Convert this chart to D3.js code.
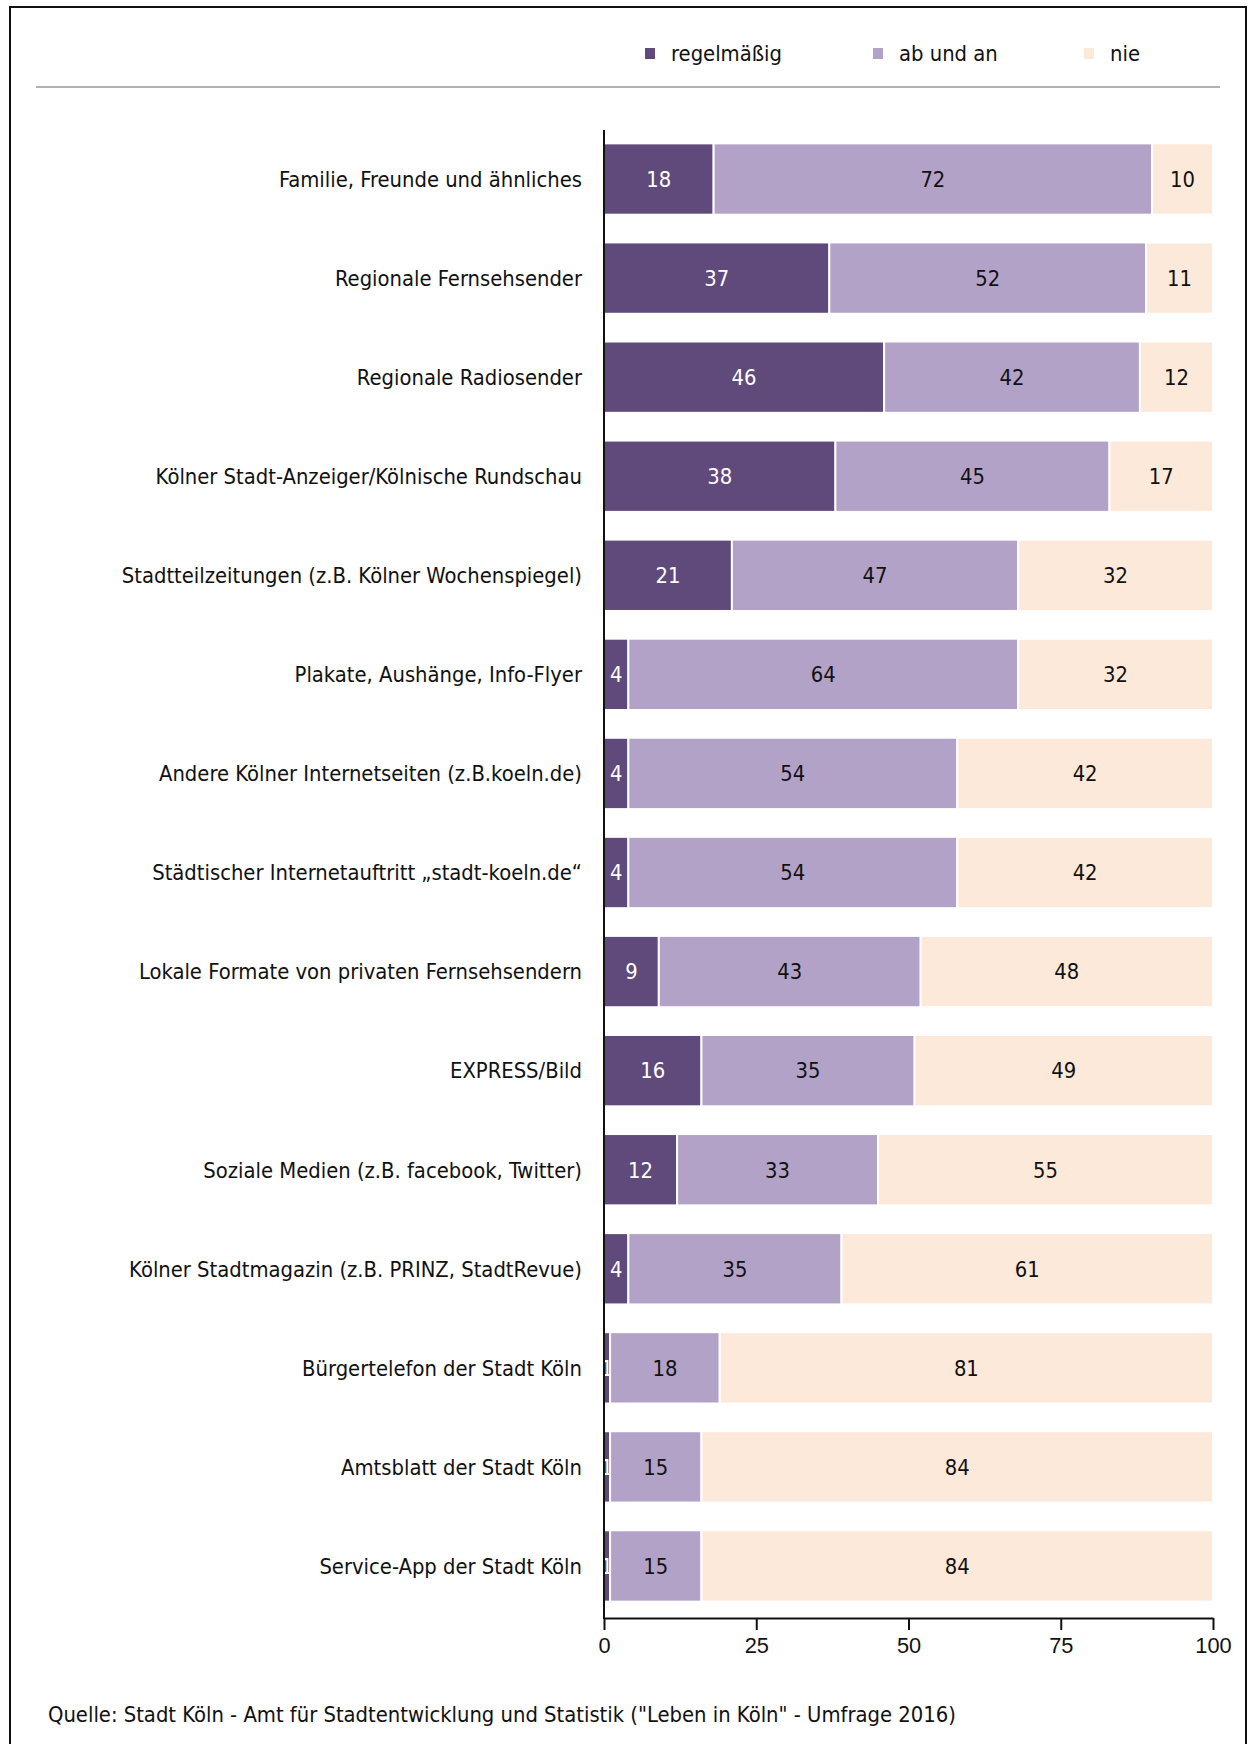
<!DOCTYPE html>
<html>
<head>
<meta charset="utf-8">
<script src="https://d3js.org/d3.v7.min.js"></script>
<style>
  html, body { margin: 0; padding: 0; background: #fff; }
  body { font-family: "Liberation Sans Narrow", "DejaVu Sans Condensed", "Open Sans", sans-serif; }
  svg text { fill: #111; }
</style>
</head>
<body>
<svg></svg>
<script>
    // Data
    var categories = [
        "Familie, Freunde und ähnliches",
        "Regionale Fernsehsender",
        "Regionale Radiosender",
        "Kölner Stadt-Anzeiger/Kölnische Rundschau",
        "Stadtteilzeitungen (z.B. Kölner Wochenspiegel)",
        "Plakate, Aushänge, Info-Flyer",
        "Andere Kölner Internetseiten (z.B.koeln.de)",
        "Städtischer Internetauftritt „stadt-koeln.de“",
        "Lokale Formate von privaten Fernsehsendern",
        "EXPRESS/Bild",
        "Soziale Medien (z.B. facebook, Twitter)",
        "Kölner Stadtmagazin (z.B. PRINZ, StadtRevue)",
        "Bürgertelefon der Stadt Köln",
        "Amtsblatt der Stadt Köln",
        "Service-App der Stadt Köln"
    ];
    var regelmaessig = [18, 37, 46, 38, 21, 4, 4, 4, 9, 16, 12, 4, 1, 1, 1];
    var abUndAn      = [72, 52, 42, 45, 47, 64, 54, 54, 43, 35, 33, 35, 18, 15, 15];
    var nie          = [10, 11, 12, 17, 32, 32, 42, 42, 48, 49, 55, 61, 81, 84, 84];
    var seriesNames = ["regelmäßig", "ab und an", "nie"];
    var xTicks = [0, 25, 50, 75, 100];
    var source = 'Quelle: Stadt Köln - Amt für Stadtentwicklung und Statistik ("Leben in Köln" - Umfrage 2016)';

    // Variables
    var width = 1248;
    var height = 1744;
    var fontSize = '21.8px';
    var colors = ["#604a7b", "#b3a2c7", "#fde9d9"];
    var textColors = ["#ffffff", "#111111", "#111111"];

    var svg = d3.select('svg')
        .attr('width', width)
        .attr('height', height);

    // frame
    svg.append('path')
        .attr('d', 'M10,' + (height + 2) + 'V7H1246V' + (height + 2))
        .attr('fill', 'none')
        .attr('stroke', '#111')
        .attr('stroke-width', 2);

    // legend rule
    svg.append('line')
        .attr('x1', 36).attr('x2', 1220)
        .attr('y1', 87).attr('y2', 87)
        .attr('stroke', '#999').attr('stroke-width', 1.5);

    // Build stacked data
    var rows = categories.map(function (c, i) {
        return { name: c, "regelmäßig": regelmaessig[i], "ab und an": abUndAn[i], "nie": nie[i] };
    });
    var stack = d3.stack().keys(seriesNames);
    var series = stack(rows);

    var x = d3.scaleLinear().domain([0, 100]).range([604, 1213]);
    var y = d3.scaleBand().domain(categories).range([129.5, 1615.5])
        .paddingInner(0.28).paddingOuter(0.14);

    var g = svg.append('g');

    // bars
    var layer = g.selectAll('.layer')
        .data(series)
        .enter().append('g')
        .attr('class', 'layer')
        .attr('fill', function (d, i) { return colors[i]; });

    layer.selectAll('rect')
        .data(function (d) { return d; })
        .enter().append('rect')
        .attr('x', function (d) { return x(d[0]); })
        .attr('y', function (d) { return y(d.data.name); })
        .attr('width', function (d) { return x(d[1]) - x(d[0]); })
        .attr('height', y.bandwidth())
        .attr('stroke', '#fff')
        .attr('stroke-width', 2);

    // value labels
    layer.selectAll('text')
        .data(function (d, i) { return d.map(function (v) { v.si = i; return v; }); })
        .enter().append('text')
        .attr('x', function (d) { return (x(d[0]) + x(d[1])) / 2; })
        .attr('y', function (d) { return y(d.data.name) + y.bandwidth() / 2; })
        .attr('dy', '0.36em')
        .attr('text-anchor', 'middle')
        .style('font-size', fontSize)
        .style('fill', function (d) { return textColors[d.si]; })
        .text(function (d) { return d[1] - d[0]; });

    // category labels
    g.selectAll('.cat')
        .data(categories)
        .enter().append('text')
        .attr('class', 'cat')
        .attr('x', 582)
        .attr('y', function (d) { return y(d) + y.bandwidth() / 2; })
        .attr('dy', '0.36em')
        .attr('text-anchor', 'end')
        .style('font-size', fontSize)
        .text(function (d) { return d; });

    // y axis line
    g.append('line')
        .attr('x1', x(0)).attr('x2', x(0))
        .attr('y1', 130).attr('y2', 1619)
        .attr('stroke', '#111').attr('stroke-width', 2);

    // x axis
    var xAxis = d3.axisBottom(x).tickValues(xTicks).tickSize(12).tickSizeOuter(0).tickPadding(8);
    var ax = svg.append('g')
        .attr('transform', 'translate(0,1618)')
        .call(xAxis);
    ax.select('.domain').attr('stroke', '#111').attr('stroke-width', 2);
    ax.selectAll('.tick line').attr('stroke', '#111').attr('stroke-width', 2);
    ax.selectAll('.tick text')
        .style('font-size', fontSize)
        .style('font-family', 'inherit')
        .attr('fill', '#111');

    // legend
    var legendX = [650, 878, 1089];
    var leg = svg.selectAll('.leg')
        .data(seriesNames)
        .enter().append('g')
        .attr('class', 'leg')
        .attr('transform', function (d, i) { return 'translate(' + legendX[i] + ',53)'; });
    leg.append('rect')
        .attr('x', -5).attr('y', -5)
        .attr('width', 10).attr('height', 11)
        .attr('fill', function (d, i) { return colors[i]; });
    leg.append('text')
        .attr('x', 21)
        .attr('dy', '0.36em')
        .style('font-size', fontSize)
        .text(function (d) { return d; });

    // source
    svg.append('text')
        .attr('x', 48)
        .attr('y', 1722)
        .style('font-size', fontSize)
        .text(source);
</script>
</body>
</html>
